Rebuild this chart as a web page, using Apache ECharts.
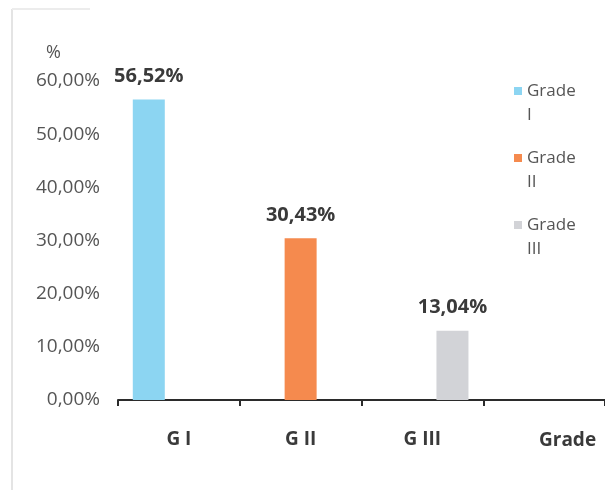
<!DOCTYPE html>
<html>
<head>
<meta charset="utf-8">
<script src="https://cdn.jsdelivr.net/npm/echarts@6/dist/echarts.min.js"></script>
<style>
  html, body { margin: 0; padding: 0; background: #ffffff; }
  #chart { width: 605px; height: 494px; }
</style>
</head>
<body>
<div id="chart"></div>
<script>
// Grade distribution, shares in percent
const categories = ['G I', 'G II', 'G III', ''];
const seriesNames = ['Grade I', 'Grade II', 'Grade III'];
const gradeI = [56.52, '-', '-', '-'];
const gradeII = ['-', 30.43, '-', '-'];
const gradeIII = ['-', '-', 13.04, '-'];
const yTicks = [0, 10, 20, 30, 40, 50, 60];

const colors = ['#8cd5f2', '#f58a4e', '#d2d3d7'];
const fontFamily = '"Open Sans", "Noto Sans", sans-serif';

const pct = v => Number(v).toFixed(2).replace('.', ',') + '%';

const chart = echarts.init(document.getElementById('chart'), null, { renderer: 'canvas' });

const makeSeries = (name, data, color) => ({
  name: name,
  type: 'bar',
  data: data,
  barWidth: 32,
  barGap: '-6%',
  itemStyle: { color: color },
  label: {
    show: true,
    position: 'top',
    distance: 13,
    formatter: p => pct(p.value),
    color: '#3a3a3a',
    fontWeight: 'bold',
    fontSize: 20,
    fontFamily: fontFamily
  }
});

chart.setOption({
  backgroundColor: '#ffffff',
  animation: false,
  color: colors,
  grid: { left: 118, right: -1, top: 81, bottom: 94, containLabel: false },
  legend: {
    orient: 'vertical',
    left: 509,
    top: 50,
    itemWidth: 8,
    itemHeight: 8,
    itemGap: -5,
    itemTextGap: 8,
    icon: 'rect',
    data: seriesNames,
    // an empty leading line keeps the swatch level with the word "Grade"
    formatter: n => ' \n' + n.replace(' ', '\n'),
    textStyle: {
      color: '#555555',
      fontSize: 17,
      lineHeight: 24,
      fontFamily: fontFamily
    }
  },
  xAxis: {
    type: 'category',
    data: categories,
    name: 'Grade',
    nameLocation: 'end',
    nameGap: -66,
    nameTextStyle: {
      color: '#3a3a3a',
      fontWeight: 'bold',
      fontSize: 19,
      fontFamily: fontFamily,
      align: 'left',
      verticalAlign: 'top',
      padding: [31, 0, 0, 0]
    },
    axisLine: { show: true, lineStyle: { color: '#2b2b2b', width: 2 } },
    axisTick: { show: true, length: 6, lineStyle: { color: '#2b2b2b', width: 2 } },
    axisLabel: {
      color: '#3a3a3a',
      fontWeight: 'bold',
      fontSize: 19,
      margin: 30,
      fontFamily: fontFamily
    },
    splitLine: { show: false }
  },
  yAxis: {
    type: 'value',
    min: yTicks[0],
    max: yTicks[yTicks.length - 1],
    interval: 10,
    name: '%',
    nameGap: 19,
    nameTextStyle: {
      color: '#555555',
      fontSize: 18,
      fontFamily: fontFamily,
      align: 'right',
      padding: [0, 57, 0, 0]
    },
    axisLine: { show: false },
    axisTick: { show: false },
    splitLine: { show: false },
    axisLabel: {
      color: '#555555',
      fontSize: 19,
      margin: 18,
      fontFamily: fontFamily,
      formatter: v => pct(v)
    }
  },
  graphic: [
    {
      type: 'line',
      shape: { x1: 12, y1: 9, x2: 12, y2: 490 },
      style: { stroke: '#e4e4e4', lineWidth: 2 },
      silent: true
    },
    {
      type: 'line',
      shape: { x1: 12, y1: 9, x2: 90, y2: 9 },
      style: { stroke: '#ececec', lineWidth: 2 },
      silent: true
    }
  ],
  series: [
    makeSeries(seriesNames[0], gradeI, colors[0]),
    makeSeries(seriesNames[1], gradeII, colors[1]),
    makeSeries(seriesNames[2], gradeIII, colors[2])
  ]
});
</script>
</body>
</html>
